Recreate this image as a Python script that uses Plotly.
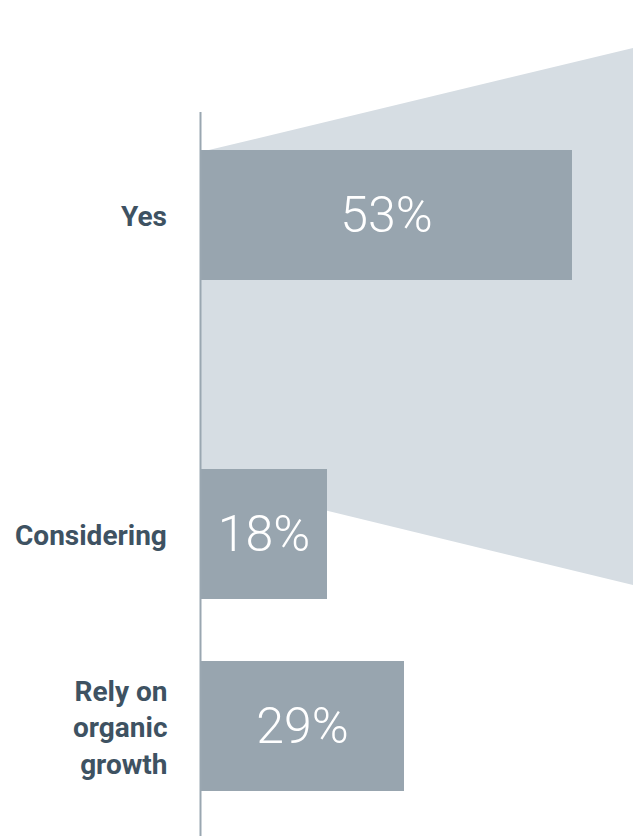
import plotly.graph_objects as go

# Survey answers and their shares (%)
categories = ["Yes", "Considering", "Rely on<br>organic<br>growth"]
shares = [53, 18, 29]

# Layout constants (vertical positions in pixels from the top of the page)
W, H = 633, 836
row_centers = [214.5, 533.5, 726]
bar_height = 130
axis_x_px = 200.5
px_per_pct = 7.0

x_min = -axis_x_px / px_per_pct
x_max = (W - axis_x_px) / px_per_pct

BAR = "#98a5af"
FUNNEL = "#d6dde3"
LABEL = "#3e5262"
AXIS = "#9aa7b1"

fig = go.Figure()

fig.add_trace(go.Bar(
    x=shares,
    y=row_centers,
    orientation="h",
    width=bar_height,
    marker=dict(color=BAR, line=dict(width=0)),
    text=[f"{v}%" for v in shares],
    textposition="inside",
    insidetextanchor="middle",
    textangle=0,
    textfont=dict(family="Roboto", size=50, color="white", weight=300),
    hoverinfo="skip",
))

# Widening callout band behind the bars
fig.add_shape(
    type="path",
    xref="x", yref="y",
    path=f"M 0,152 L {x_max},48 L {x_max},585 L 0,480 Z",
    fillcolor=FUNNEL,
    line=dict(width=0),
    layer="below",
)

# Baseline axis
fig.add_shape(
    type="line",
    xref="x", yref="y",
    x0=0, x1=0, y0=112, y1=H,
    line=dict(color=AXIS, width=2),
    layer="above",
)

# Category labels, right-aligned left of the axis
for label, yc in zip(categories, row_centers):
    fig.add_annotation(
        x=169 / W, xref="paper",
        y=yc + 2, yref="y",
        text=f"<b>{label}</b>",
        showarrow=False,
        xanchor="right",
        yanchor="middle",
        align="right",
        font=dict(family="Roboto", size=28, color=LABEL),
    )

fig.update_layout(
    width=W, height=H,
    margin=dict(l=0, r=0, t=0, b=0),
    paper_bgcolor="white",
    plot_bgcolor="white",
    showlegend=False,
    bargap=0,
    xaxis=dict(range=[x_min, x_max], visible=False, fixedrange=True),
    yaxis=dict(range=[H, 0], visible=False, fixedrange=True),
)

fig.write_html("out.html")
